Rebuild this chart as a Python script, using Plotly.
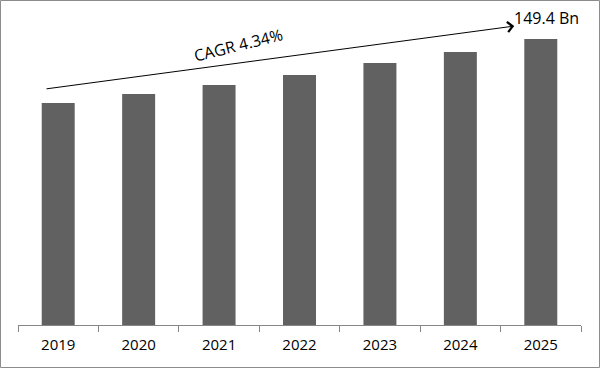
import plotly.graph_objects as go

years = ["2019", "2020", "2021", "2022", "2023", "2024", "2025"]
market_size = [116.0, 120.7, 125.4, 130.6, 136.9, 142.6, 149.4]
cagr_label = "CAGR 4.34%"
end_label = "149.4 Bn"

W, H = 600, 368
ml, mr, mt, mb = 18, 19, 10, 43
pw, ph = W - ml - mr, H - mt - mb

fig = go.Figure(go.Bar(x=years, y=market_size, marker_color="#616161",
                       marker_line_width=0, hoverinfo="skip"))

fig.update_layout(
    width=W, height=H,
    margin=dict(l=ml, r=mr, t=mt, b=mb),
    paper_bgcolor="white", plot_bgcolor="white",
    bargap=0.59,
    showlegend=False,
    font=dict(family="Open Sans", color="#000000"),
)
fig.update_xaxes(showline=True, linecolor="#868686", linewidth=1,
                 ticks="outside", tickson="boundaries", ticklen=6,
                 tickcolor="#868686", tickfont=dict(size=15, color="#000000"),
                 ticklabelstandoff=6,
                 showgrid=False, zeroline=False)
fig.update_yaxes(visible=False, range=[0, 164.6], showgrid=False, zeroline=False)

# trend arrow
fig.add_annotation(x=5.67, y=156.2, ax=-0.164, ay=123.3,
                   xref="x", yref="y", axref="x", ayref="y",
                   text="", showarrow=True, arrowhead=4, arrowsize=2,
                   arrowwidth=1, arrowcolor="#000000")
fig.add_annotation(x=2.24, y=146.3, xref="x", yref="y", text=cagr_label,
                   showarrow=False, textangle=-14,
                   font=dict(size=16, color="#000000"))
fig.add_annotation(x=6.07, y=160.6, xref="x", yref="y", text=end_label,
                   showarrow=False, font=dict(size=16, color="#000000"))

# outer border
fig.add_shape(type="rect", xref="paper", yref="paper",
              x0=(0.5 - ml) / pw, x1=(W - 0.5 - ml) / pw,
              y0=(mt + ph - (H - 0.5)) / ph, y1=(mt + ph - 0.5) / ph,
              line=dict(color="#8c8c8c", width=1), fillcolor="rgba(0,0,0,0)")

fig.write_html("out.html", config={"displayModeBar": False},
               post_script="document.body.style.margin='0';document.body.style.overflow='hidden';")
